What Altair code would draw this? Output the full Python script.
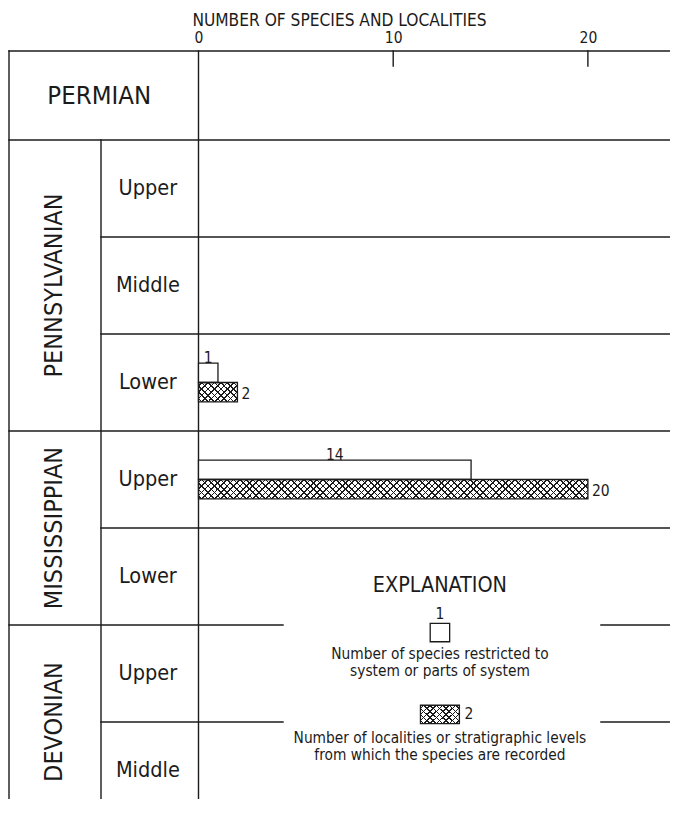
import altair as alt
import pandas as pd

# ---------------- data ----------------
periods = ["PERMIAN", "PENNSYLVANIAN", "MISSISSIPPIAN", "DEVONIAN"]
epochs = ["Upper", "Middle", "Lower", "Upper", "Lower", "Upper", "Middle"]
epoch_period = ["PENNSYLVANIAN", "PENNSYLVANIAN", "PENNSYLVANIAN",
                "MISSISSIPPIAN", "MISSISSIPPIAN", "DEVONIAN", "DEVONIAN"]
species_restricted = [0, 0, 1, 14, 0, 0, 0]
localities = [0, 0, 2, 20, 0, 0, 0]
axis_ticks = [0, 10, 20]
title_text = "NUMBER OF SPECIES AND LOCALITIES"
legend_title = "EXPLANATION"
legend_open_value = 1
legend_hatch_value = 2
legend_open_text = ["Number of species restricted to", "system or parts of system"]
legend_hatch_text = ["Number of localities or stratigraphic levels",
                     "from which the species are recorded"]

# ---------------- layout / style ----------------
FONT = "DejaVu Sans Condensed, Liberation Sans, Arial, sans-serif"
INK = "#1b1b1b"
PLOT_W, PLOT_H = 662, 748
PX_X = 19.47              # px per species unit
ZERO_PX = 190.5           # position of 0 inside plot
ROW_PX = 97.0
PERMIAN_H = 89.0 / ROW_PX
X_MIN = -ZERO_PX / PX_X
X_MAX = (PLOT_W - ZERO_PX) / PX_X
Y_MAX = PLOT_H / ROW_PX
LEFT = (1 - ZERO_PX) / PX_X
EPOCH_X = (93 - ZERO_PX) / PX_X
GAP_L, GAP_R = 4.34, 20.67
BAR_H = 0.2
LEG_X = 12.4

xscale = alt.Scale(domain=[X_MIN, X_MAX], nice=False, zero=False)
yscale = alt.Scale(domain=[0, Y_MAX], nice=False, zero=False, reverse=True)
XAXIS = alt.Axis(orient="top", values=axis_ticks, domain=False, ticks=False, tickSize=0,
                 grid=False, labelFont=FONT, labelFontSize=15.5, labelColor=INK,
                 labelPadding=9, labelBaseline="alphabetic", labelFlush=False,
                 labelOverlap=False, format="d",
                 title=title_text, titleFont=FONT, titleFontSize=17.2,
                 titleFontWeight="normal", titleColor=INK, titleY=-25.5,
                 titleBaseline="alphabetic")


def X(f):
    return alt.X(f, type="quantitative", scale=xscale, axis=XAXIS)


def Y(f):
    return alt.Y(f, type="quantitative", scale=yscale, axis=None)


# row geometry
row_top = [PERMIAN_H + i for i in range(len(epochs))]
rows = pd.DataFrame({
    "epoch": epochs, "period": epoch_period,
    "species": species_restricted, "loc": localities,
    "top": row_top,
})
rows["center"] = rows["top"] + 0.5
rows["open_y"] = rows["center"] - BAR_H
rows["hatch_y2"] = rows["center"] + BAR_H
rows["species_mid"] = rows["species"] / 2
rows["loc_mid_y"] = rows["center"] + BAR_H / 2

# legend elements (positions are layout)
leg_open_y, leg_open_y2 = 5.90, 6.09
leg_hatch_y, leg_hatch_y2 = 6.745, 6.935
legend_boxes = pd.DataFrame({
    "kind": ["open", "hatch"],
    "value": [legend_open_value, legend_hatch_value],
    "y": [leg_open_y, leg_hatch_y], "y2": [leg_open_y2, leg_hatch_y2],
})
legend_boxes["x"] = LEG_X - legend_boxes["value"] / 2
legend_boxes["x2"] = LEG_X + legend_boxes["value"] / 2

# ---------------- grid lines ----------------
lines = []
lines.append((LEFT, X_MAX, 0, 0))
lines.append((LEFT, X_MAX, PERMIAN_H, PERMIAN_H))
for i in range(1, len(epochs)):
    y = row_top[i]
    xs = LEFT if epoch_period[i] != epoch_period[i - 1] else EPOCH_X
    if 5.5 < y < 7.2:
        lines.append((xs, GAP_L, y, y))
        lines.append((GAP_R, X_MAX, y, y))
    else:
        lines.append((xs, X_MAX, y, y))
lines.append((LEFT, LEFT, 0, Y_MAX))
lines.append((EPOCH_X, EPOCH_X, PERMIAN_H, Y_MAX))
lines.append((0, 0, 0, Y_MAX))
for t in axis_ticks[1:]:
    lines.append((t, t, 0, 15 / ROW_PX))
lines_df = pd.DataFrame(lines, columns=["x", "x2", "y", "y2"])

rules = alt.Chart(lines_df).mark_rule(color=INK, strokeWidth=1.4, strokeCap="square").encode(
    x=X("x"), x2="x2", y=Y("y"), y2="y2")

# ---------------- stratigraphic labels ----------------
per_rows = []
for p in periods[1:]:
    idx = [i for i, e in enumerate(epoch_period) if e == p]
    top = row_top[idx[0]]
    bottom = row_top[idx[-1]] + 1
    per_rows.append({"label": p, "y": (top + bottom) / 2})
per_df = pd.DataFrame(per_rows)
per_df["x"] = -7.42

permian = alt.Chart(pd.DataFrame({"label": [periods[0]], "x": [-5.1], "y": [PERMIAN_H / 2]})).mark_text(
    font=FONT, fontSize=25.5, color=INK, baseline="middle", align="center").encode(
    x=X("x"), y=Y("y"), text="label")

per_text = alt.Chart(per_df).mark_text(
    font=FONT, fontSize=25, color=INK, baseline="middle", align="center", angle=270).encode(
    x=X("x"), y=Y("y"), text="label")

epoch_text = alt.Chart(rows).transform_calculate(xe="-2.6").mark_text(
    font=FONT, fontSize=21.5, color=INK, baseline="middle", align="center").encode(
    x=X("xe:Q"), y=Y("center"), text="epoch")


# ---------------- bars ----------------
def hatch_gradient(w_px, h_px, direction):
    r = h_px / w_px
    s = (1 + r) / (1 + r * r)
    total = w_px + h_px
    P, T = 6.4, 1.6
    stops = []
    c = P / 2
    clear = "rgba(255,255,255,0)"
    while c - T / 2 < total:
        a = max(0.0, (c - T / 2) / total)
        b = min(1.0, (c + T / 2) / total)
        stops += [{"offset": a, "color": clear}, {"offset": a, "color": INK},
                  {"offset": b, "color": INK}, {"offset": b, "color": clear}]
        c += P
    if direction == 1:
        x1, y1, x2, y2 = 0, 0, s, s * r
    else:
        x1, y1, x2, y2 = 0, 1, s, 1 - s * r
    return {"gradient": "linear", "x1": x1, "y1": y1, "x2": x2, "y2": y2, "stops": stops}


H_PX = BAR_H * ROW_PX

open_bars = alt.Chart(rows).transform_filter("datum.species > 0").transform_calculate(x0="0").mark_rect(
    fill="white", stroke=INK, strokeWidth=1.3).encode(
    x=X("x0:Q"), x2="species:Q", y=Y("open_y"), y2="center:Q")


def hatched_layers(df, xf, x2f, yf, y2f, value):
    w = value * PX_X
    l1 = alt.Chart(df).mark_rect(fill=hatch_gradient(w, H_PX, 1), strokeWidth=0).encode(
        x=X(xf), x2=x2f, y=Y(yf), y2=y2f)
    l2 = alt.Chart(df).mark_rect(fill=hatch_gradient(w, H_PX, -1), stroke=INK, strokeWidth=1.3).encode(
        x=X(xf), x2=x2f, y=Y(yf), y2=y2f)
    return [l1, l2]


hatch_layers = []
for i, v in enumerate(localities):
    if v > 0:
        sub = rows.iloc[[i]].assign(x0=0.0)
        hatch_layers += hatched_layers(sub, "x0", "loc:Q", "center", "hatch_y2:Q", v)

species_lbl = alt.Chart(rows).transform_filter("datum.species > 0").mark_text(
    font=FONT, fontSize=15.5, color=INK, baseline="middle", align="center", dy=-5).encode(
    x=X("species_mid"), y=Y("open_y"), text=alt.Text("species:Q", format="d"))

loc_lbl = alt.Chart(rows).transform_filter("datum.loc > 0").mark_text(
    font=FONT, fontSize=15.5, color=INK, baseline="middle", align="left", dx=4, dy=2).encode(
    x=X("loc"), y=Y("loc_mid_y"), text=alt.Text("loc:Q", format="d"))

# ---------------- explanation ----------------
leg_title = alt.Chart(pd.DataFrame({"t": [legend_title], "x": [LEG_X], "y": [5.515]})).mark_text(
    font=FONT, fontSize=21.4, color=INK, baseline="middle", align="center").encode(
    x=X("x"), y=Y("y"), text="t")

open_box = alt.Chart(legend_boxes[legend_boxes.kind == "open"]).mark_rect(
    fill="white", stroke=INK, strokeWidth=1.3).encode(x=X("x"), x2="x2", y=Y("y"), y2="y2")
open_box_lbl = alt.Chart(legend_boxes[legend_boxes.kind == "open"]).mark_text(
    font=FONT, fontSize=15.5, color=INK, baseline="middle", align="center", dy=-9).encode(
    x=alt.X("xm:Q", scale=xscale, axis=XAXIS), y=Y("y"), text=alt.Text("value:Q", format="d")
).transform_calculate(xm="(datum.x + datum.x2) / 2")

hb = legend_boxes[legend_boxes.kind == "hatch"]
leg_hatch = hatched_layers(hb, "x", "x2:Q", "y", "y2:Q", legend_hatch_value)
hatch_box_lbl = alt.Chart(hb).transform_calculate(ym="(datum.y + datum.y2) / 2").mark_text(
    font=FONT, fontSize=15.5, color=INK, baseline="middle", align="left", dx=5).encode(
    x=X("x2"), y=Y("ym:Q"), text=alt.Text("value:Q", format="d"))

LINE_H = 16.8 / ROW_PX
leg_lines = pd.DataFrame({
    "t": legend_open_text + legend_hatch_text,
    "y": [6.218, 6.218 + LINE_H, 7.084, 7.084 + LINE_H],
})
leg_lines["x"] = LEG_X
leg_text = alt.Chart(leg_lines).mark_text(
    font=FONT, fontSize=15.3, color=INK, baseline="middle", align="center").encode(
    x=X("x"), y=Y("y"), text="t")

chart = alt.layer(
    rules, permian, per_text, epoch_text, open_bars, *hatch_layers, species_lbl, loc_lbl,
    leg_title, open_box, open_box_lbl, *leg_hatch, hatch_box_lbl, leg_text
).properties(
    width=PLOT_W, height=PLOT_H,
    padding={"left": 0, "right": 0, "top": 43, "bottom": 0},
    autosize=alt.AutoSizeParams(type="none"),
    background="white",
).configure_view(stroke=None)

chart.save("out.html", embed_options={"renderer": "svg", "actions": False})
